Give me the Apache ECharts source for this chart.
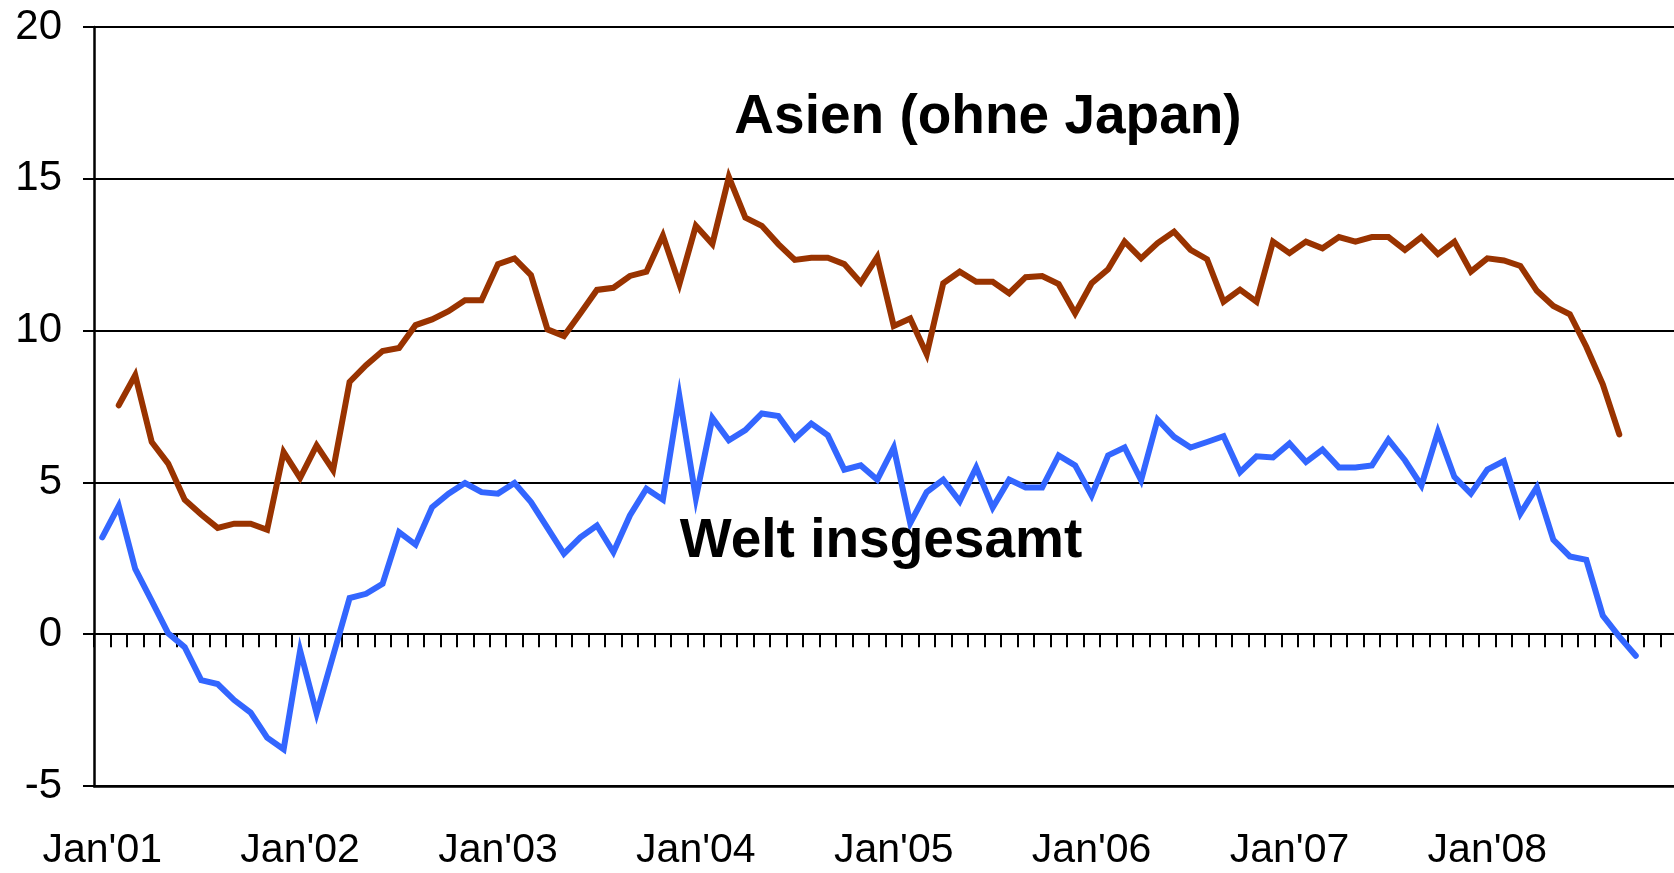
<!DOCTYPE html>
<html>
<head>
<meta charset="utf-8">
<script src="https://cdn.jsdelivr.net/npm/echarts@6/dist/echarts.min.js"></script>
<style>
  html, body { margin: 0; padding: 0; background: #fff; }
  #main { width: 1674px; height: 873px; }
</style>
</head>
<body>
<div id="main"></div>
<script>
// month labels, Jan'01 .. Dec'08
var monthNames = ['Jan', 'Feb', 'Mar', 'Apr', 'May', 'Jun', 'Jul', 'Aug', 'Sep', 'Oct', 'Nov', 'Dec'];
var years = ['01', '02', '03', '04', '05', '06', '07', '08'];

var categories = [];
years.forEach(function (y) {
  monthNames.forEach(function (m) {
    categories.push(m + "'" + y);
  });
});

// Welt insgesamt, Jan'01 .. Oct'08
var welt = [
  3.19, 4.22, 2.15, 1.10, 0.03, -0.43, -1.51, -1.64, -2.17, -2.58, -3.41, -3.79,
  -0.54, -2.61, -0.71, 1.19, 1.33, 1.66, 3.36, 2.95, 4.18, 4.63, 4.98, 4.68,
  4.63, 4.98, 4.35, 3.50, 2.65, 3.19, 3.58, 2.70, 3.91, 4.79, 4.43, 7.84,
  4.48, 7.12, 6.39, 6.72, 7.27, 7.19, 6.44, 6.94, 6.55, 5.42, 5.56, 5.09,
  6.15, 3.66, 4.68, 5.09, 4.38, 5.49, 4.17, 5.09, 4.83, 4.83, 5.89, 5.56,
  4.57, 5.89, 6.15, 5.07, 7.07, 6.50, 6.15, 6.33, 6.52, 5.34, 5.86, 5.82,
  6.28, 5.67, 6.08, 5.49, 5.49, 5.56, 6.41, 5.73, 4.90, 6.66, 5.18, 4.63,
  5.42, 5.70, 3.97, 4.84, 3.11, 2.56, 2.45, 0.61, -0.08, -0.71
];

// Asien (ohne Japan), Feb'01 .. Sep'08 (no value for Jan'01)
var asien = [
  null, 7.54, 8.53, 6.33, 5.62, 4.43, 3.94, 3.50, 3.64, 3.64, 3.44, 6.00,
  5.15, 6.22, 5.40, 8.31, 8.86, 9.33, 9.43, 10.18, 10.37, 10.64, 11.00, 11.00,
  12.19, 12.38, 11.83, 10.04, 9.82, 10.57, 11.34, 11.41, 11.80, 11.94, 13.13, 11.53,
  13.45, 12.85, 15.06, 13.72, 13.45, 12.85, 12.33, 12.40, 12.40, 12.19, 11.58, 12.42,
  10.15, 10.40, 9.22, 11.56, 11.94, 11.61, 11.61, 11.23, 11.76, 11.80, 11.53, 10.57,
  11.56, 12.02, 12.93, 12.38, 12.88, 13.26, 12.66, 12.35, 10.95, 11.35, 10.95, 12.93,
  12.55, 12.93, 12.71, 13.08, 12.93, 13.08, 13.08, 12.66, 13.08, 12.52, 12.93, 11.94,
  12.38, 12.31, 12.13, 11.31, 10.81, 10.54, 9.47, 8.23, 6.58
];

var yTicks = { min: -5, max: 20, step: 5 };
var seriesNames = ['Asien (ohne Japan)', 'Welt insgesamt'];

var FONT = '"Liberation Sans", Arial, Helvetica, sans-serif';

var chart = echarts.init(document.getElementById('main'), null, { renderer: 'canvas' });

var option = {
  animation: false,
  backgroundColor: '#fff',
  grid: {
    left: 94,
    top: 27,
    width: 1583,
    height: 759,
    containLabel: false,
    outerBoundsMode: 'none'
  },
  xAxis: [{
    // month ticks hanging under the zero line
    type: 'category',
    data: categories,
    position: 'bottom',
    boundaryGap: true,
    axisLine: { onZero: true, lineStyle: { color: '#000', width: 2 } },
    axisTick: { show: true, interval: 0, length: 13, lineStyle: { color: '#000', width: 2 } },
    axisLabel: { show: false },
    splitLine: { show: false }
  }, {
    // year labels at the bottom
    type: 'category',
    data: categories,
    position: 'bottom',
    boundaryGap: true,
    axisLine: { onZero: false, lineStyle: { color: '#000', width: 2.5 } },
    axisTick: { show: false },
    axisLabel: {
      interval: 11,
      margin: 44,
      fontSize: 41,
      fontFamily: FONT,
      color: '#000'
    },
    splitLine: { show: false }
  }],
  yAxis: {
    type: 'value',
    min: yTicks.min,
    max: yTicks.max,
    interval: yTicks.step,
    axisLine: { show: true, lineStyle: { color: '#000', width: 2.5 } },
    axisTick: { show: true, length: 11, lineStyle: { color: '#000', width: 2 } },
    axisLabel: {
      margin: 32,
      fontSize: 42,
      fontFamily: FONT,
      color: '#000'
    },
    splitLine: { show: true, lineStyle: { color: '#000', width: 2 } }
  },
  series: [{
    name: seriesNames[0],
    type: 'line',
    xAxisIndex: 0,
    data: asien,
    showSymbol: false,
    symbol: 'none',
    connectNulls: false,
    lineStyle: { color: '#993300', width: 6, cap: 'round', join: 'miter' },
    itemStyle: { color: '#993300' },
    z: 3
  }, {
    name: seriesNames[1],
    type: 'line',
    xAxisIndex: 0,
    data: welt,
    showSymbol: false,
    symbol: 'none',
    lineStyle: { color: '#3366ff', width: 6, cap: 'round', join: 'miter' },
    itemStyle: { color: '#3366ff' },
    z: 4
  }],
  graphic: [{
    type: 'text',
    x: 988,
    y: 118,
    z: 10,
    style: {
      text: seriesNames[0],
      font: 'bold 55px ' + FONT,
      fill: '#000',
      align: 'center',
      verticalAlign: 'middle',
      textAlign: 'center',
      textVerticalAlign: 'middle'
    }
  }, {
    type: 'text',
    x: 881,
    y: 542,
    z: 10,
    style: {
      text: seriesNames[1],
      font: 'bold 55px ' + FONT,
      fill: '#000',
      align: 'center',
      verticalAlign: 'middle',
      textAlign: 'center',
      textVerticalAlign: 'middle'
    }
  }]
};

chart.setOption(option);
</script>
</body>
</html>
